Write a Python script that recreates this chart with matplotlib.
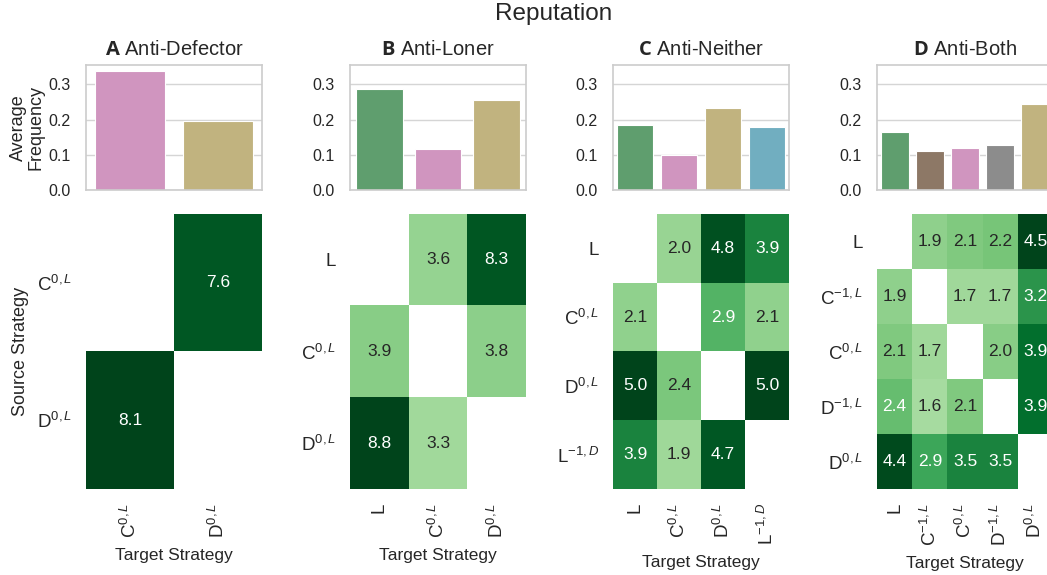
import colorsys
import numpy as np
import matplotlib
matplotlib.use("Agg")
import matplotlib.pyplot as plt
import matplotlib.colors as mcolors

plt.rcParams['font.family'] = ['Liberation Sans', 'DejaVu Sans']
plt.rcParams['mathtext.fontset'] = 'custom'
plt.rcParams['mathtext.rm'] = 'Liberation Sans'
plt.rcParams['mathtext.it'] = 'Liberation Sans:italic'
plt.rcParams['mathtext.bf'] = 'Open Sans:bold'
plt.rcParams['text.color'] = '#262626'
plt.rcParams['axes.labelcolor'] = '#262626'
plt.rcParams['xtick.color'] = '#262626'
plt.rcParams['ytick.color'] = '#262626'

# strategy labels
L = 'L'
C0 = 'C$^{0,L}$'
D0 = 'D$^{0,L}$'
Cm = 'C$^{-1,L}$'
Dm = 'D$^{-1,L}$'
LD = 'L$^{-1,D}$'

titles = [('A', 'Anti-Defector'), ('B', 'Anti-Loner'),
          ('C', 'Anti-Neither'), ('D', 'Anti-Both')]

strategies_a = [C0, D0]
strategies_b = [L, C0, D0]
strategies_c = [L, C0, D0, LD]
strategies_d = [L, Cm, C0, Dm, D0]

freq_a = [0.337, 0.196]
freq_b = [0.286, 0.116, 0.256]
freq_c = [0.185, 0.098, 0.234, 0.180]
freq_d = [0.166, 0.111, 0.120, 0.128, 0.244]

nan = np.nan
flow_a = [[nan, 7.6],
          [8.1, nan]]
flow_b = [[nan, 3.6, 8.3],
          [3.9, nan, 3.8],
          [8.8, 3.3, nan]]
flow_c = [[nan, 2.0, 4.8, 3.9],
          [2.1, nan, 2.9, 2.1],
          [5.0, 2.4, nan, 5.0],
          [3.9, 1.9, 4.7, nan]]
flow_d = [[nan, 1.9, 2.1, 2.2, 4.5],
          [1.9, nan, 1.7, 1.7, 3.2],
          [2.1, 1.7, nan, 2.0, 3.9],
          [2.4, 1.6, 2.1, nan, 3.9],
          [4.4, 2.9, 3.5, 3.5, nan]]


def desat(hexcol, prop=0.75):
    r, g, b = mcolors.to_rgb(hexcol)
    h, l, s = colorsys.rgb_to_hls(r, g, b)
    return colorsys.hls_to_rgb(h, l, s * prop)


colors = {L: desat('#55A868'), Cm: desat('#937860'), C0: desat('#DA8BC3'),
          Dm: desat('#8C8C8C'), D0: desat('#CCB974'), LD: desat('#64B5CD')}


def luminance(c):
    rgb = np.array(mcolors.to_rgb(c))
    rgb = np.where(rgb <= .03928, rgb / 12.92, ((rgb + .055) / 1.055) ** 2.4)
    return rgb.dot([.2126, .7152, .0722])


W, H = 1047, 575
fig = plt.figure(figsize=(W / 100, H / 100), dpi=100)
fig.text(554 / W, 1 - 14 / H, 'Reputation', ha='center', va='center', fontsize=17.5)

lefts = [86, 350, 613, 877]
width = 176
panels = [(strategies_a, freq_a, flow_a), (strategies_b, freq_b, flow_b),
          (strategies_c, freq_c, flow_c), (strategies_d, freq_d, flow_d)]
cmap = plt.get_cmap('Greens').copy()
cmap.set_bad('white')

for i, (strats, freq, flow) in enumerate(panels):
    x0 = lefts[i] / W
    w = width / W
    axb = fig.add_axes([x0, 1 - 190 / H, w, 125 / H])
    n = len(strats)
    axb.bar(range(n), freq, width=0.8, color=[colors[s] for s in strats],
            edgecolor='white', linewidth=0.8, zorder=2)
    axb.set_xlim(-0.5, n - 0.5)
    axb.set_ylim(0, 0.355)
    axb.set_yticks([0.0, 0.1, 0.2, 0.3])
    axb.set_yticklabels(['0.0', '0.1', '0.2', '0.3'])
    axb.set_xticks([])
    axb.grid(axis='y', color='#d5d5d5', linewidth=1.0, zorder=0)
    axb.set_axisbelow(True)
    for sp in axb.spines.values():
        sp.set_color('#cccccc')
        sp.set_linewidth(1.2)
    axb.tick_params(axis='y', length=0, pad=11, labelsize=11.5)
    letter, name = titles[i]
    axb.set_title(r'$\mathbf{' + letter + '}$ ' + name, fontsize=14.5, pad=7)
    if i == 0:
        axb.set_ylabel('Average\nFrequency', fontsize=13, labelpad=3, linespacing=1.0)

    axh = fig.add_axes([x0, 1 - 489 / H, w, 275 / H])
    data = np.ma.masked_invalid(np.array(flow, dtype=float))
    vmax = np.nanmax(np.array(flow, dtype=float))
    axh.imshow(data, cmap=cmap, vmin=0, vmax=vmax, aspect='auto',
               interpolation='nearest')
    for r in range(n):
        for c in range(n):
            v = flow[r][c]
            if np.isnan(v):
                continue
            col = cmap(v / vmax)
            tc = '#262626' if luminance(col) > .408 else 'white'
            axh.text(c, r, f'{v:.1f}', ha='center', va='center',
                     fontsize=12.5, color=tc)
    axh.set_xticks(range(n))
    axh.set_xticklabels(strats, rotation=90)
    axh.set_yticks(range(n))
    axh.set_yticklabels(strats, rotation=0)
    axh.tick_params(length=0, pad=10, labelsize=13.5)
    for sp in axh.spines.values():
        sp.set_visible(False)
    axh.set_xlabel('Target Strategy', fontsize=12.5, labelpad=7)
    if i == 0:
        axh.set_ylabel('Source Strategy', fontsize=13, labelpad=6)

fig.savefig('out.png', dpi=100)
